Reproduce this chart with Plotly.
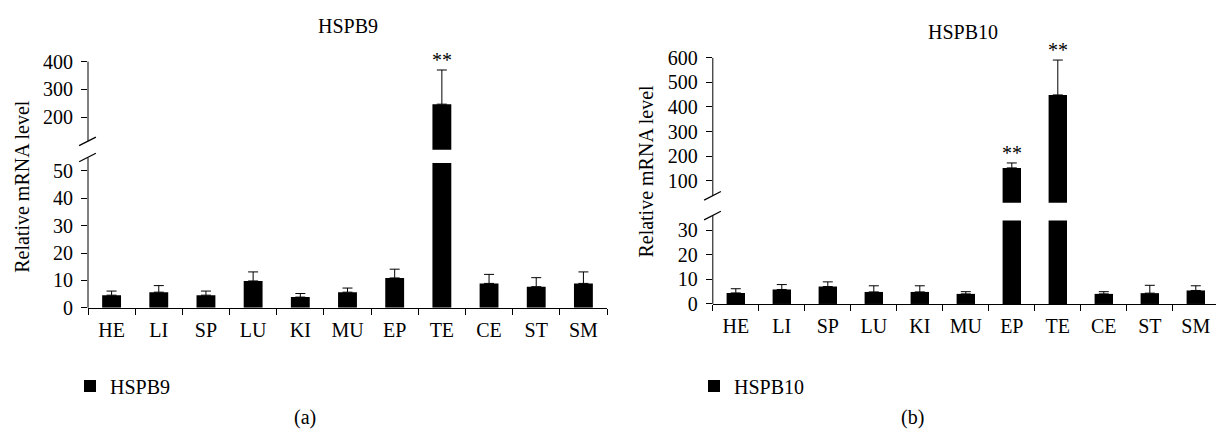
import plotly.graph_objects as go

# ---------------- data ----------------
tissues = ["HE", "LI", "SP", "LU", "KI", "MU", "EP", "TE", "CE", "ST", "SM"]

hspb9_mean = [4.6, 5.7, 4.6, 9.8, 3.9, 5.7, 10.9, 247, 8.9, 7.7, 8.9]
hspb9_sd = [1.5, 2.4, 1.5, 3.3, 1.3, 1.5, 3.2, 123, 3.3, 3.3, 4.2]

hspb10_mean = [4.5, 5.9, 7.1, 4.9, 4.9, 4.1, 152, 449, 4.1, 4.4, 5.5]
hspb10_sd = [1.7, 2.0, 1.9, 2.5, 2.5, 0.9, 20, 142, 0.9, 3.2, 1.9]

hspb9_sig = ["TE"]
hspb10_sig = ["EP", "TE"]

lower_ticks_a = [0, 10, 20, 30, 40, 50]
upper_ticks_a = [200, 300, 400]
lower_ticks_b = [0, 10, 20, 30]
upper_ticks_b = [100, 200, 300, 400, 500, 600]

# axis ranges (broken axes)
lower_range_a = [0, 52.9]
upper_range_a = [83, 400]
lower_range_b = [0, 34]
upper_range_b = [10, 600]

# ---------------- layout helpers ----------------
W, H = 1216, 442
FONT = "Liberation Serif"


def px(x):
    return x / W


def py(y):
    return 1 - y / H


fig = go.Figure()


def add_bars(mean, sd, xa, ya, name, legend, show, floor=None):
    vals = mean
    errs = sd
    if floor is not None:
        # only the bars that reach the upper part of a broken axis
        vals = [v if v > floor else None for v in mean]
        errs = [e if v > floor else None for v, e in zip(mean, sd)]
    fig.add_trace(go.Bar(
        x=tissues, y=vals, name=name, xaxis=xa, yaxis=ya,
        marker=dict(color="black", line=dict(width=0)), width=0.4,
        error_y=dict(type="data", array=errs, arrayminus=[0] * len(sd),
                     symmetric=False, color="black", thickness=1, width=5),
        showlegend=show, legend=legend,
    ))


add_bars(hspb9_mean, hspb9_sd, "x", "y", "HSPB9", "legend", True)
add_bars(hspb9_mean, hspb9_sd, "x2", "y2", "HSPB9", "legend", False,
         floor=upper_range_a[0])
add_bars(hspb10_mean, hspb10_sd, "x3", "y3", "HSPB10", "legend2", True)
add_bars(hspb10_mean, hspb10_sd, "x4", "y4", "HSPB10", "legend2", False,
         floor=upper_range_b[0])

tickfont = dict(family=FONT, size=20, color="black")

xcommon = dict(type="category", showline=True, linecolor="black", linewidth=1,
               ticks="outside", ticklen=6, tickwidth=1, tickcolor="black",
               tickson="boundaries", showgrid=False, zeroline=False,
               tickfont=tickfont, ticklabelstandoff=4)
ycommon = dict(showline=False, ticks="outside", ticklen=6, tickwidth=1,
               tickcolor="black", showgrid=False, zeroline=False,
               tickfont=tickfont, ticklabelstandoff=4)

xa_dom = [px(88), px(607)]
xb_dom = [px(712.8), 1.0]
xb_range = [-0.5, -0.5 + (W - 712.8) / 46.0]

fig.update_layout(
    width=W, height=H, margin=dict(l=0, r=0, t=0, b=0),
    paper_bgcolor="white", plot_bgcolor="white",
    font=dict(family=FONT, color="black", size=20),
    xaxis=dict(xcommon, domain=xa_dom, anchor="y", range=[-0.5, 10.5]),
    yaxis=dict(ycommon, domain=[py(312.3), py(160)], range=lower_range_a,
               tickvals=lower_ticks_a, anchor="x"),
    xaxis2=dict(domain=xa_dom, anchor="y2", matches="x", visible=False,
                type="category"),
    yaxis2=dict(ycommon, domain=[py(146), py(53.3)], range=upper_range_a,
                tickvals=upper_ticks_a, anchor="x2"),
    xaxis3=dict(xcommon, domain=xb_dom, anchor="y3", range=xb_range),
    yaxis3=dict(ycommon, domain=[py(308.3), py(220.5)], range=lower_range_b,
                tickvals=lower_ticks_b, anchor="x3"),
    xaxis4=dict(domain=xb_dom, anchor="y4", matches="x3", visible=False,
                type="category"),
    yaxis4=dict(ycommon, domain=[py(201.8), py(49.3)], range=upper_range_b,
                tickvals=upper_ticks_b, anchor="x4"),
    legend=dict(x=px(70), y=py(374), xanchor="left", yanchor="top",
                font=dict(family=FONT, size=20, color="black"),
                bgcolor="rgba(0,0,0,0)"),
    legend2=dict(x=px(694), y=py(374), xanchor="left", yanchor="top",
                 font=dict(family=FONT, size=20, color="black"),
                 bgcolor="rgba(0,0,0,0)"),
)

# ---- broken y-axis lines and break marks ----
shapes = []


def vline(x, y0, y1):
    shapes.append(dict(type="line", xref="paper", yref="paper",
                       x0=px(x), x1=px(x), y0=py(y0), y1=py(y1),
                       line=dict(color="black", width=1)))


def slash(cx, cy):
    shapes.append(dict(type="line", xref="paper", yref="paper",
                       x0=px(cx - 8.4), x1=px(cx + 8.4),
                       y0=py(cy + 4.5), y1=py(cy - 4.5),
                       line=dict(color="black", width=1.2)))


vline(88, 53.3, 137.2)
vline(88, 154.2, 312.3)
slash(87.5, 137.2)
slash(87.5, 154.2)
vline(712.8, 49.3, 194.5)
vline(712.8, 215.3, 308.3)
slash(712.5, 194.5)
slash(712.5, 215.3)
fig.update_layout(shapes=shapes)

# ---- annotations ----
ann = []


def text(x, y, s, **kw):
    d = dict(xref="paper", yref="paper", x=px(x), y=py(y), text=s,
             showarrow=False, font=dict(family=FONT, size=20, color="black"),
             xanchor="center", yanchor="middle")
    d.update(kw)
    ann.append(d)


text(347.5, 16, "HSPB9")
text(963, 22, "HSPB10")
text(22, 185, "Relative mRNA level", textangle=-90)
text(646, 169, "Relative mRNA level", textangle=-90)
text(305, 428, "(a)")
text(912, 428, "(b)")

for t in hspb9_sig:
    i = tissues.index(t)
    ann.append(dict(xref="x2", yref="y2", x=t, y=hspb9_mean[i] + hspb9_sd[i],
                    text="**", showarrow=False, yanchor="bottom", yshift=-3,
                    font=dict(family=FONT, size=20, color="black")))
for t in hspb10_sig:
    i = tissues.index(t)
    ann.append(dict(xref="x4", yref="y4", x=t, y=hspb10_mean[i] + hspb10_sd[i],
                    text="**", showarrow=False, yanchor="bottom", yshift=-3,
                    font=dict(family=FONT, size=20, color="black")))

fig.update_layout(annotations=ann)

fig.write_html(
    "out.html",
    config={"displayModeBar": False},
    post_script="document.body.style.margin='0px';"
                "document.body.style.overflow='hidden';",
)
